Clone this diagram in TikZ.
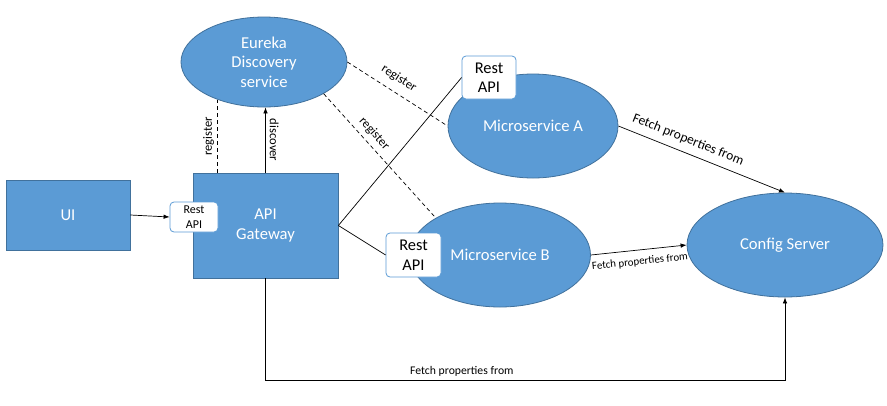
\documentclass[tikz,border=0pt]{standalone}
\usepackage{fontspec}
\setmainfont{Carlito}
\usetikzlibrary{shapes.geometric,arrows.meta,calc}
\definecolor{fillblue}{HTML}{5B9BD5}
\definecolor{edgeblue}{HTML}{41719C}
\begin{document}
\begin{tikzpicture}[x=1pt,y=-1pt,
  svc/.style={ellipse, draw=edgeblue, fill=fillblue, text=white, line width=0.8pt,
    font=\fontsize{16.6}{19.5}\selectfont, inner sep=0pt, align=center},
  blk/.style={rectangle, draw=edgeblue, fill=fillblue, text=white, line width=0.8pt,
    font=\fontsize{16.6}{20}\selectfont, inner sep=0pt, align=center},
  rest/.style={rectangle, rounded corners=4pt, draw=fillblue, fill=white, line width=0.8pt,
    inner sep=0pt, align=center, text=black},
  conn/.style={line width=0.7pt, draw=black},
  arr/.style={conn, -{Latex[length=6pt,width=4.5pt]}},
  dsh/.style={conn, dash pattern=on 4pt off 3pt},
  lbl/.style={font=\fontsize{12.6}{14}\selectfont, text=black, inner sep=1pt}]
\path[use as bounding box, fill=white] (0,0) rectangle (887,405);

% main shapes
\node[svc, minimum width=166pt, minimum height=90pt] (eureka) at (264,62) {Eureka\\Discovery\\service};
\node[svc, minimum width=170pt, minimum height=104pt] (msa) at (533,126) {Microservice A};
\node[svc, minimum width=181pt, minimum height=104pt] (msb) at (500,255) {Microservice B};
\node[svc, minimum width=196pt, minimum height=104pt] (config) at (785,245) {Config Server};
\node[blk, minimum width=124pt, minimum height=70pt] (ui) at (68,215) {UI};
\node[blk, minimum width=145pt, minimum height=105pt] (gw) at (265.5,225.5) {API\\Gateway};

% rest api boxes
\node[rest, minimum width=48pt, minimum height=30pt, font=\fontsize{12}{15}\selectfont] (restgw) at (194,217) {Rest\\API};
\node[rest, minimum width=54pt, minimum height=43pt, font=\fontsize{16.4}{19.5}\selectfont] (resta) at (489,77.5) {Rest\\API};
\node[rest, minimum width=55pt, minimum height=44pt, font=\fontsize{16.4}{19.5}\selectfont] (restb) at (413.5,255) {Rest\\API};

% connectors
\draw[arr] (ui.east) -- (restgw.west);
\draw[dsh] (eureka.219 |- gw.north) -- (eureka.219)
  node[lbl, midway, sloped, above=2pt] {register};
\draw[arr] (gw.north) -- (gw.north |- eureka.south)
  node[lbl, midway, rotate=-90, anchor=south, inner sep=4pt] {discover};
\draw[dsh] (eureka.east) -- (msa.west)
  node[lbl, pos=0.44, sloped, above=7pt] {register};
\draw[dsh] (eureka.-28) -- (msb.150)
  node[lbl, pos=0.38, sloped, above=4pt] {register};
\draw[conn] (gw.east) -- (resta.west);
\draw[conn] (gw.east) -- (restb.west);
\draw[arr] (msa.east) -- (config.north)
  node[lbl, pos=0.39, sloped, above=6pt, font=\fontsize{13.4}{15}\selectfont] {Fetch properties from};
\draw[arr] (msb.east) -- (config.west)
  node[lbl, pos=0.5, sloped, below=6pt, font=\fontsize{10.9}{12}\selectfont] {Fetch properties from};
\draw[arr] (gw.south) -- ++(0,102) coordinate (bl) -- (bl -| config.south)
  node[lbl, pos=0.378, above=3pt, font=\fontsize{11.7}{13}\selectfont] {Fetch properties from} -- (config.south);
\end{tikzpicture}
\end{document}
